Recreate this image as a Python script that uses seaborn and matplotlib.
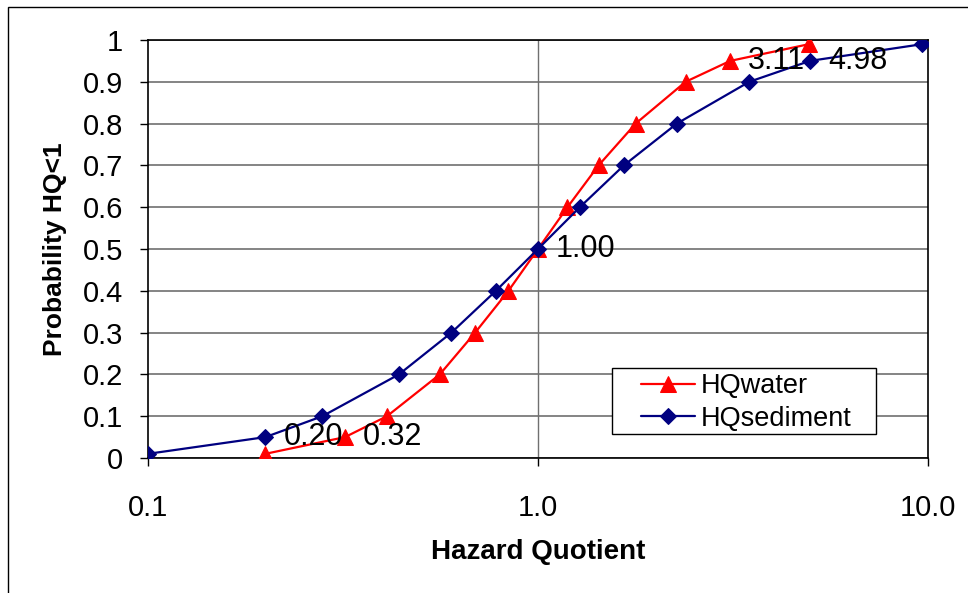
import os

os.environ.setdefault("MPLCONFIGDIR", "/tmp/matplotlib")

import matplotlib

matplotlib.use("Agg")
import matplotlib.pyplot as plt
import seaborn as sns
import pandas as pd
from matplotlib.patches import Rectangle
from matplotlib.ticker import FixedLocator, FuncFormatter, NullLocator

# cumulative probabilities and the hazard quotients
probability = [0.01, 0.05, 0.1, 0.2, 0.3, 0.4, 0.5, 0.6, 0.7, 0.8, 0.9, 0.95, 0.99]
hq_water = [0.20, 0.32, 0.41, 0.56, 0.69, 0.84, 1.00, 1.19, 1.43, 1.78, 2.39, 3.11, 4.95]
hq_sediment = [0.10, 0.20, 0.28, 0.44, 0.60, 0.78, 1.00, 1.28, 1.66, 2.27, 3.48, 4.98, 9.66]

# labelled points: (series, probability, text)
point_labels = [
    ("HQsediment", 0.05, "0.20"),
    ("HQwater", 0.05, "0.32"),
    ("HQwater", 0.5, "1.00"),
    ("HQwater", 0.95, "3.11"),
    ("HQsediment", 0.95, "4.98"),
]

x_ticks = [0.1, 1.0, 10.0]
x_tick_labels = ["0.1", "1.0", "10.0"]
y_ticks = [0, 0.1, 0.2, 0.3, 0.4, 0.5, 0.6, 0.7, 0.8, 0.9, 1.0]

sns.set_style("white")
plt.rcParams["font.family"] = ["Liberation Sans", "DejaVu Sans"]
plt.rcParams["text.color"] = "black"
plt.rcParams["axes.labelcolor"] = "black"
plt.rcParams["xtick.color"] = "black"
plt.rcParams["ytick.color"] = "black"

water = pd.DataFrame({"hq": hq_water, "p": probability})
sediment = pd.DataFrame({"hq": hq_sediment, "p": probability})
series = {"HQwater": water, "HQsediment": sediment}

fig = plt.figure(figsize=(9.68, 5.93), dpi=100)
ax = fig.add_axes([148 / 968, 135 / 593, 780 / 968, 418 / 593])

sns.lineplot(data=water, x="hq", y="p", ax=ax, color="#ff0000", marker="^",
             markersize=11, markeredgecolor="#ff0000", linewidth=1.6,
             sort=False, label="HQwater", zorder=3)
sns.lineplot(data=sediment, x="hq", y="p", ax=ax, color="#000080", marker="D",
             markersize=8, markeredgecolor="#000080", linewidth=1.6,
             sort=False, label="HQsediment", zorder=4)

ax.set_xscale("log")
ax.set_xlim(0.1, 10)
ax.set_ylim(0, 1)
ax.xaxis.set_major_locator(FixedLocator(x_ticks))
ax.xaxis.set_minor_locator(NullLocator())
ax.set_xticklabels(x_tick_labels)
ax.yaxis.set_major_locator(FixedLocator(y_ticks))
ax.yaxis.set_major_formatter(FuncFormatter(lambda v, _: f"{v:g}"))

ax.grid(axis="y", color="#707070", linewidth=1.2)
ax.axvline(1.0, color="#707070", linewidth=1.0, zorder=1)
ax.set_axisbelow(True)
for spine in ax.spines.values():
    spine.set_color("black")
    spine.set_linewidth(1.2)
    spine.set_visible(True)

ax.tick_params(axis="x", direction="out", length=6, width=1, pad=20,
               labelsize=21, bottom=True)
ax.tick_params(axis="y", direction="out", length=6, width=1, pad=12,
               labelsize=21, left=True)

ax.set_xlabel("Hazard Quotient", fontsize=20, fontweight="bold", labelpad=12)
ax.set_ylabel("Probability HQ<1", fontsize=19, fontweight="bold", labelpad=11)

for name, p, text in point_labels:
    df = series[name]
    hq = df.loc[df["p"] == p, "hq"].iloc[0]
    ax.annotate(text, (hq, p), xytext=(13, 0), textcoords="offset points",
                ha="left", va="center", fontsize=22, color="black", zorder=5)

# legend box drawn separately so the padding matches the Excel legend
ax.add_patch(Rectangle((0.595, 0.0574), 0.338, 0.158, transform=ax.transAxes,
                       facecolor="white", edgecolor="black", linewidth=1.0,
                       zorder=6))
leg = ax.legend(loc="upper left", bbox_to_anchor=(0.632, 0.203), fontsize=19.5,
                frameon=False, borderpad=0, handlelength=2.0,
                handletextpad=0.2, labelspacing=0.25, borderaxespad=0)
leg.set_zorder(7)
for txt in leg.get_texts():
    txt.set_color("black")

# outer chart border (left and top edges visible in the original)
fig.patches.append(Rectangle((8 / 968, -0.1), 1.2, (586 / 593) + 0.1,
                             transform=fig.transFigure, fill=False,
                             edgecolor="black", linewidth=1.0))

fig.savefig("out.png", dpi=100)
plt.close(fig)
